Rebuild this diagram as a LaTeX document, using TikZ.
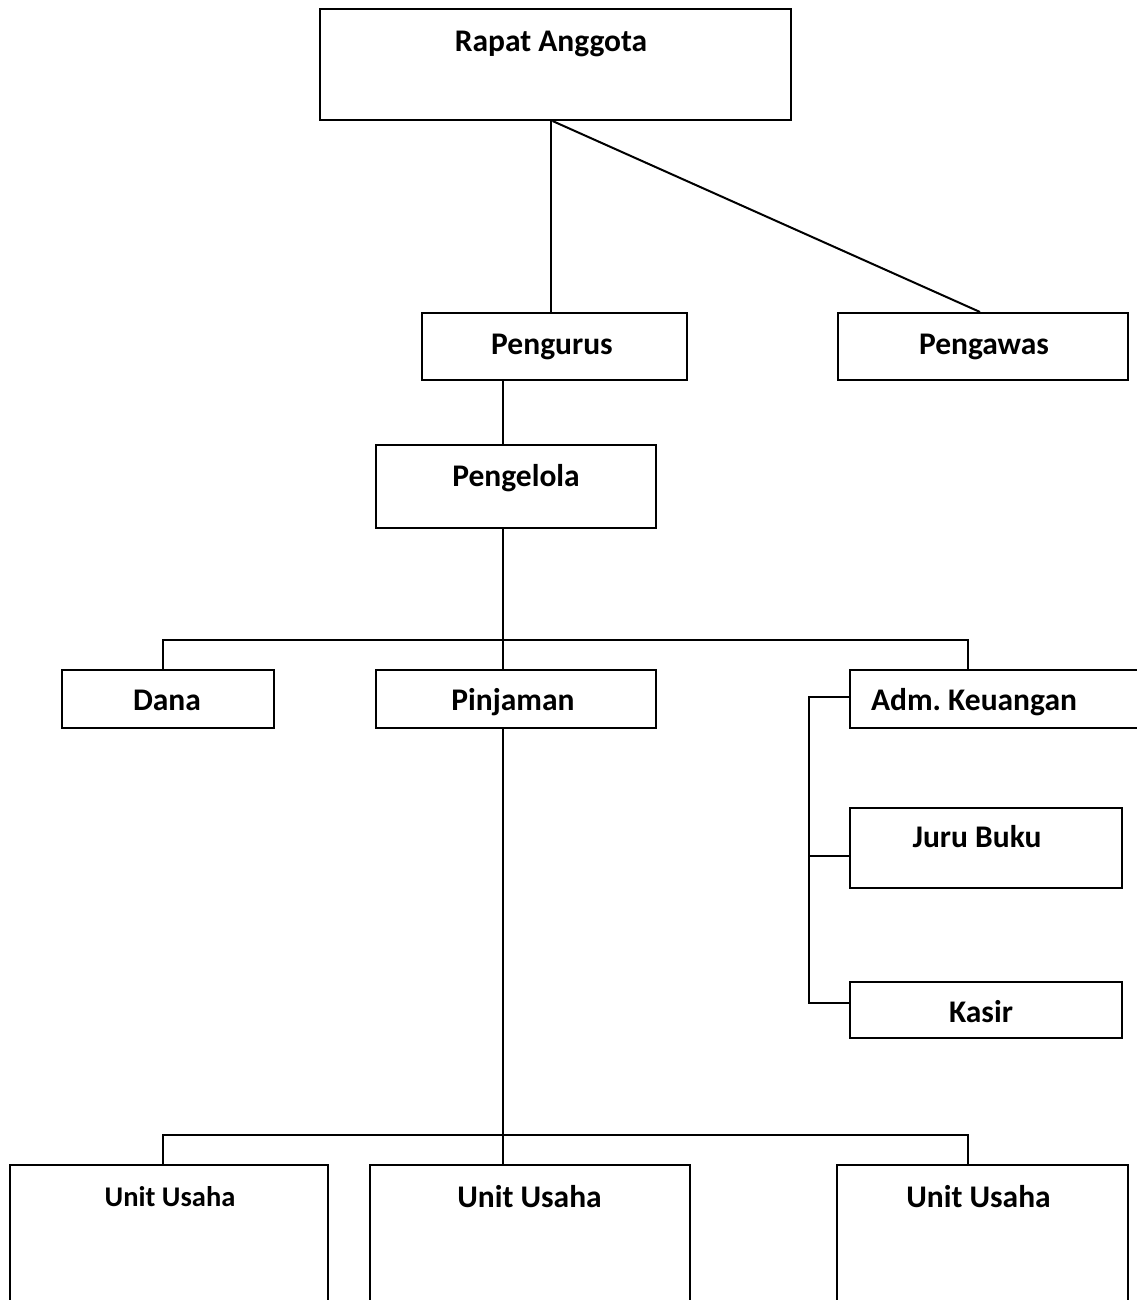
\documentclass[tikz,border=0pt]{standalone}
\usepackage{fontspec}
\setmainfont{Carlito}
\frenchspacing
\begin{document}
\begin{tikzpicture}[x=1pt,y=-1pt,
  box/.style={draw,line width=2pt,inner sep=0pt,rectangle},
  lbl/.style={anchor=base,inner sep=0pt,font=\fontsize{31.5}{31.5}\selectfont\bfseries},
  lbls/.style={anchor=base,inner sep=0pt,font=\fontsize{28.5}{28.5}\selectfont\bfseries},
  conn/.style={line width=2pt}]
\useasboundingbox (0,0) rectangle (1136,1300);
% boxes
\node[box,minimum width=471pt,minimum height=111pt] (ra) at (555.5,64.5) {};
\node[box,minimum width=265pt,minimum height=67pt] (pengurus) at (554.5,346.5) {};
\node[box,minimum width=290pt,minimum height=67pt] (pengawas) at (983,346.5) {};
\node[box,minimum width=280pt,minimum height=83pt] (pengelola) at (516,486.5) {};
\node[box,minimum width=212pt,minimum height=58pt] (dana) at (168,699) {};
\node[box,minimum width=280pt,minimum height=58pt] (pinjaman) at (516,699) {};
\node[box,minimum width=300pt,minimum height=58pt] (adm) at (1000,699) {};
\node[box,minimum width=272pt,minimum height=80pt] (juru) at (986,848) {};
\node[box,minimum width=272pt,minimum height=56pt] (kasir) at (986,1010) {};
\node[box,minimum width=318pt,minimum height=145pt] (u1) at (169,1237.5) {};
\node[box,minimum width=320pt,minimum height=145pt] (u2) at (530,1237.5) {};
\node[box,minimum width=291pt,minimum height=145pt] (u3) at (982.5,1237.5) {};
% labels
\node[lbl] (tra) at (551,52) {Rapat Anggota};
\node[lbl] (tpengurus) at (552,354) {Pengurus};
\node[lbl] (tpengawas) at (984,354) {Pengawas};
\node[lbl] (tpengelola) at (516,486) {Pengelola};
\node[lbl] (tdana) at (167,710) {Dana};
\node[lbl] (tpinjaman) at (513,710) {Pinjaman};
\node[lbl] (tadm) at (974,710) {Adm.\ Keuangan};
\node[lbl] (tjuru) at (977,847) {Juru Buku};
\node[lbl] (tkasir) at (981,1022) {Kasir};
\node[lbls] (tu1) at (170,1206) {Unit Usaha};
\node[lbl] (tu2) at (529.5,1207) {Unit Usaha};
\node[lbl] (tu3) at (978.5,1207) {Unit Usaha};
% connectors
\coordinate (busA) at (503,640);
\coordinate (busB) at (503,1135);
\draw[conn] ([xshift=-5pt]ra.south) -- ([xshift=-5pt]ra.south |- pengurus.north);
\draw[conn] ([xshift=-3pt]ra.south) -- ([xshift=-3pt]pengawas.north);
\draw[conn] ([xshift=-13pt]pengelola.north |- pengurus.south) -- ([xshift=-13pt]pengelola.north);
\draw[conn] ([xshift=-13pt]pengelola.south) -- ([xshift=-13pt]pinjaman.north);
\draw[conn] ([xshift=-5pt]dana.north) |- (busA) -| ([xshift=-32pt]adm.north);
\draw[conn] ([xshift=-13pt]pinjaman.south) -- (busB |- u2.north);
\draw[conn] ([xshift=-6pt]u1.north) |- (busB) -| ([xshift=-14.5pt]u3.north);
\draw[conn] ([yshift=2pt]adm.west) -- ++(-40,0) |- ([yshift=7pt]kasir.west);
\draw[conn] ([yshift=-8pt]juru.west) -- ++(-40,0);
\end{tikzpicture}
\end{document}
